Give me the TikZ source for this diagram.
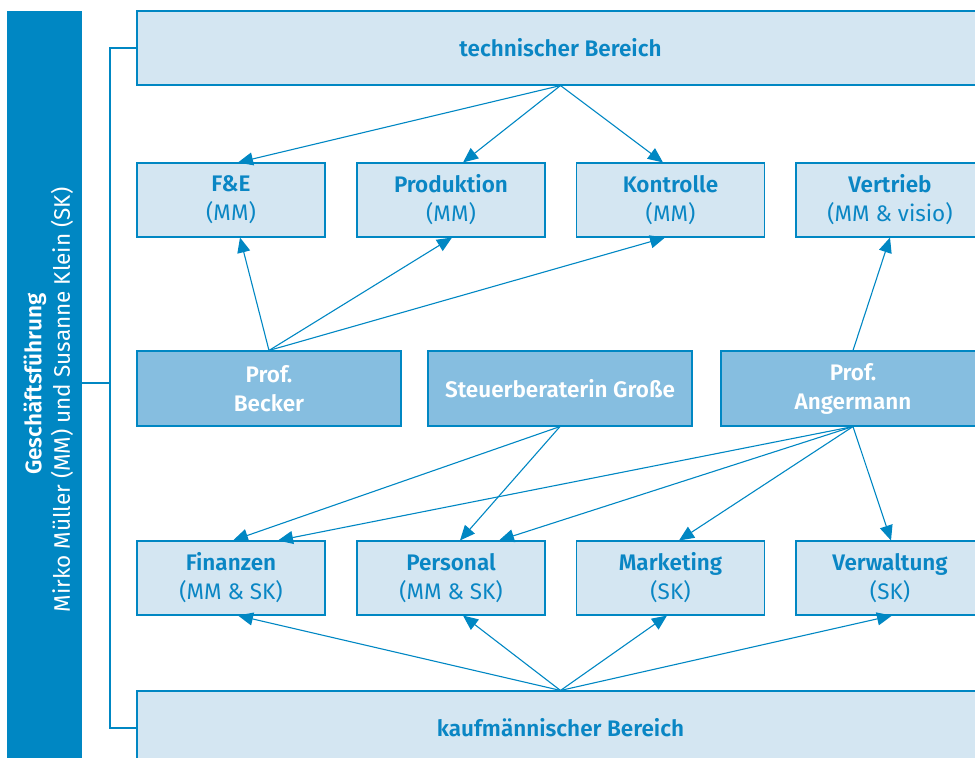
\documentclass[tikz,border=0pt]{standalone}
\usepackage{fontspec}
\setmainfont{Fira Sans}[BoldFont={Fira Sans SemiBold}]
\usetikzlibrary{arrows.meta,calc}
\definecolor{bluedark}{HTML}{0087C3}
\definecolor{boxlight}{HTML}{D4E6F2}
\definecolor{boxmid}{HTML}{86BEE0}
\definecolor{txtblue}{HTML}{0A86C4}
\begin{document}
\begin{tikzpicture}[x=1pt,y=-1pt,
  lightbox/.style={draw=bluedark,line width=1.1pt,fill=boxlight,minimum width=188pt,minimum height=74pt,inner sep=0pt,
     text=txtblue,align=center,font=\fontsize{22.5}{29}\selectfont},
  widebox/.style={lightbox,minimum width=847pt},
  midbox/.style={draw=bluedark,line width=1.1pt,fill=boxmid,minimum width=264pt,minimum height=75pt,inner sep=0pt,
     text=white,align=center,font=\fontsize{22.5}{29}\selectfont},
  bartext/.style={rotate=90,text=white,inner sep=0pt,font=\fontsize{22.5}{27}\selectfont},
  conn/.style={draw=bluedark,line width=1.1pt},
  arr/.style={conn,-{Triangle[length=15pt,width=13pt]}}]
\useasboundingbox (0,0) rectangle (975,758);
\clip (0,0) rectangle (975,758);
% left bar
\node[fill=bluedark,minimum width=75pt,minimum height=779pt,inner sep=0pt] (gf) at (44.5,400.5) {};
\node[bartext] (gftitle) at (35,384) {\textbf{Geschäftsführung}};
\node[bartext] (gfnames) at (62,400) {Mirko Müller (MM) und Susanne Klein (SK)};
% boxes
\node[widebox] (tech) at (560.5,48) {\textbf{technischer Bereich}};
\node[lightbox] (fe) at (231,200) {\textbf{F\&E}\\(MM)};
\node[lightbox] (prod) at (451,200) {\textbf{Produktion}\\(MM)};
\node[lightbox] (kontr) at (670.5,200) {\textbf{Kontrolle}\\(MM)};
\node[lightbox] (vert) at (890,200) {\textbf{Vertrieb}\\(MM \& visio)};
\node[midbox] (becker) at (269,388.5) {\textbf{Prof.}\\\textbf{Becker}};
\node[midbox] (steuer) at (560,388.5) {\textbf{Steuerberaterin Große}};
\node[midbox] (anger) at (853,388.5) {\textbf{Prof.}\\\textbf{Angermann}};
\node[lightbox] (fin) at (231,578) {\textbf{Finanzen}\\(MM \& SK)};
\node[lightbox] (pers) at (451,578) {\textbf{Personal}\\(MM \& SK)};
\node[lightbox] (mark) at (670.5,578) {\textbf{Marketing}\\(SK)};
\node[lightbox] (verw) at (890,578) {\textbf{Verwaltung}\\(SK)};
\node[widebox] (kauf) at (560.5,728) {\textbf{kaufmännischer Bereich}};
% bracket
\coordinate (brk) at (110,383);
\draw[conn] (tech.west) -| (kauf.west -| brk) -- (kauf.west);
\draw[conn] (gf.east |- brk) -- (brk);
% arrows technischer Bereich
\draw[arr] (tech.south) -- ($(fe.north)+(7,0)$);
\draw[arr] (tech.south) -- ($(prod.north)+(12,0)$);
\draw[arr] (tech.south) -- ($(kontr.north)+(-7.5,0)$);
% Becker
\draw[arr] (becker.north) -- ($(fe.south)+(9,0)$);
\draw[arr] (becker.north) -- ($(prod.south)+(1,0)$);
\draw[arr] (becker.north) -- ($(kontr.south)+(-5.5,0)$);
% Angermann up
\draw[arr] (anger.north) -- (vert.south);
% Steuerberaterin
\draw[arr] (steuer.south) -- ($(fin.north)+(2,0)$);
\draw[arr] (steuer.south) -- ($(pers.north)+(9,0)$);
% Angermann down
\draw[arr] (anger.south) -- ($(fin.north)+(47,0)$);
\draw[arr] (anger.south) -- ($(pers.north)+(48,0)$);
\draw[arr] (anger.south) -- ($(mark.north)+(8.5,0)$);
\draw[arr] (anger.south) -- ($(verw.north)+(1,0)$);
% kaufmaennischer Bereich
\draw[arr] (kauf.north) -- ($(fin.south)+(7,0)$);
\draw[arr] (kauf.north) -- ($(pers.south)+(12,0)$);
\draw[arr] (kauf.north) -- ($(mark.south)+(-3.5,0)$);
\draw[arr] (kauf.north) -- ($(verw.south)+(2,0)$);
\end{tikzpicture}
\end{document}
